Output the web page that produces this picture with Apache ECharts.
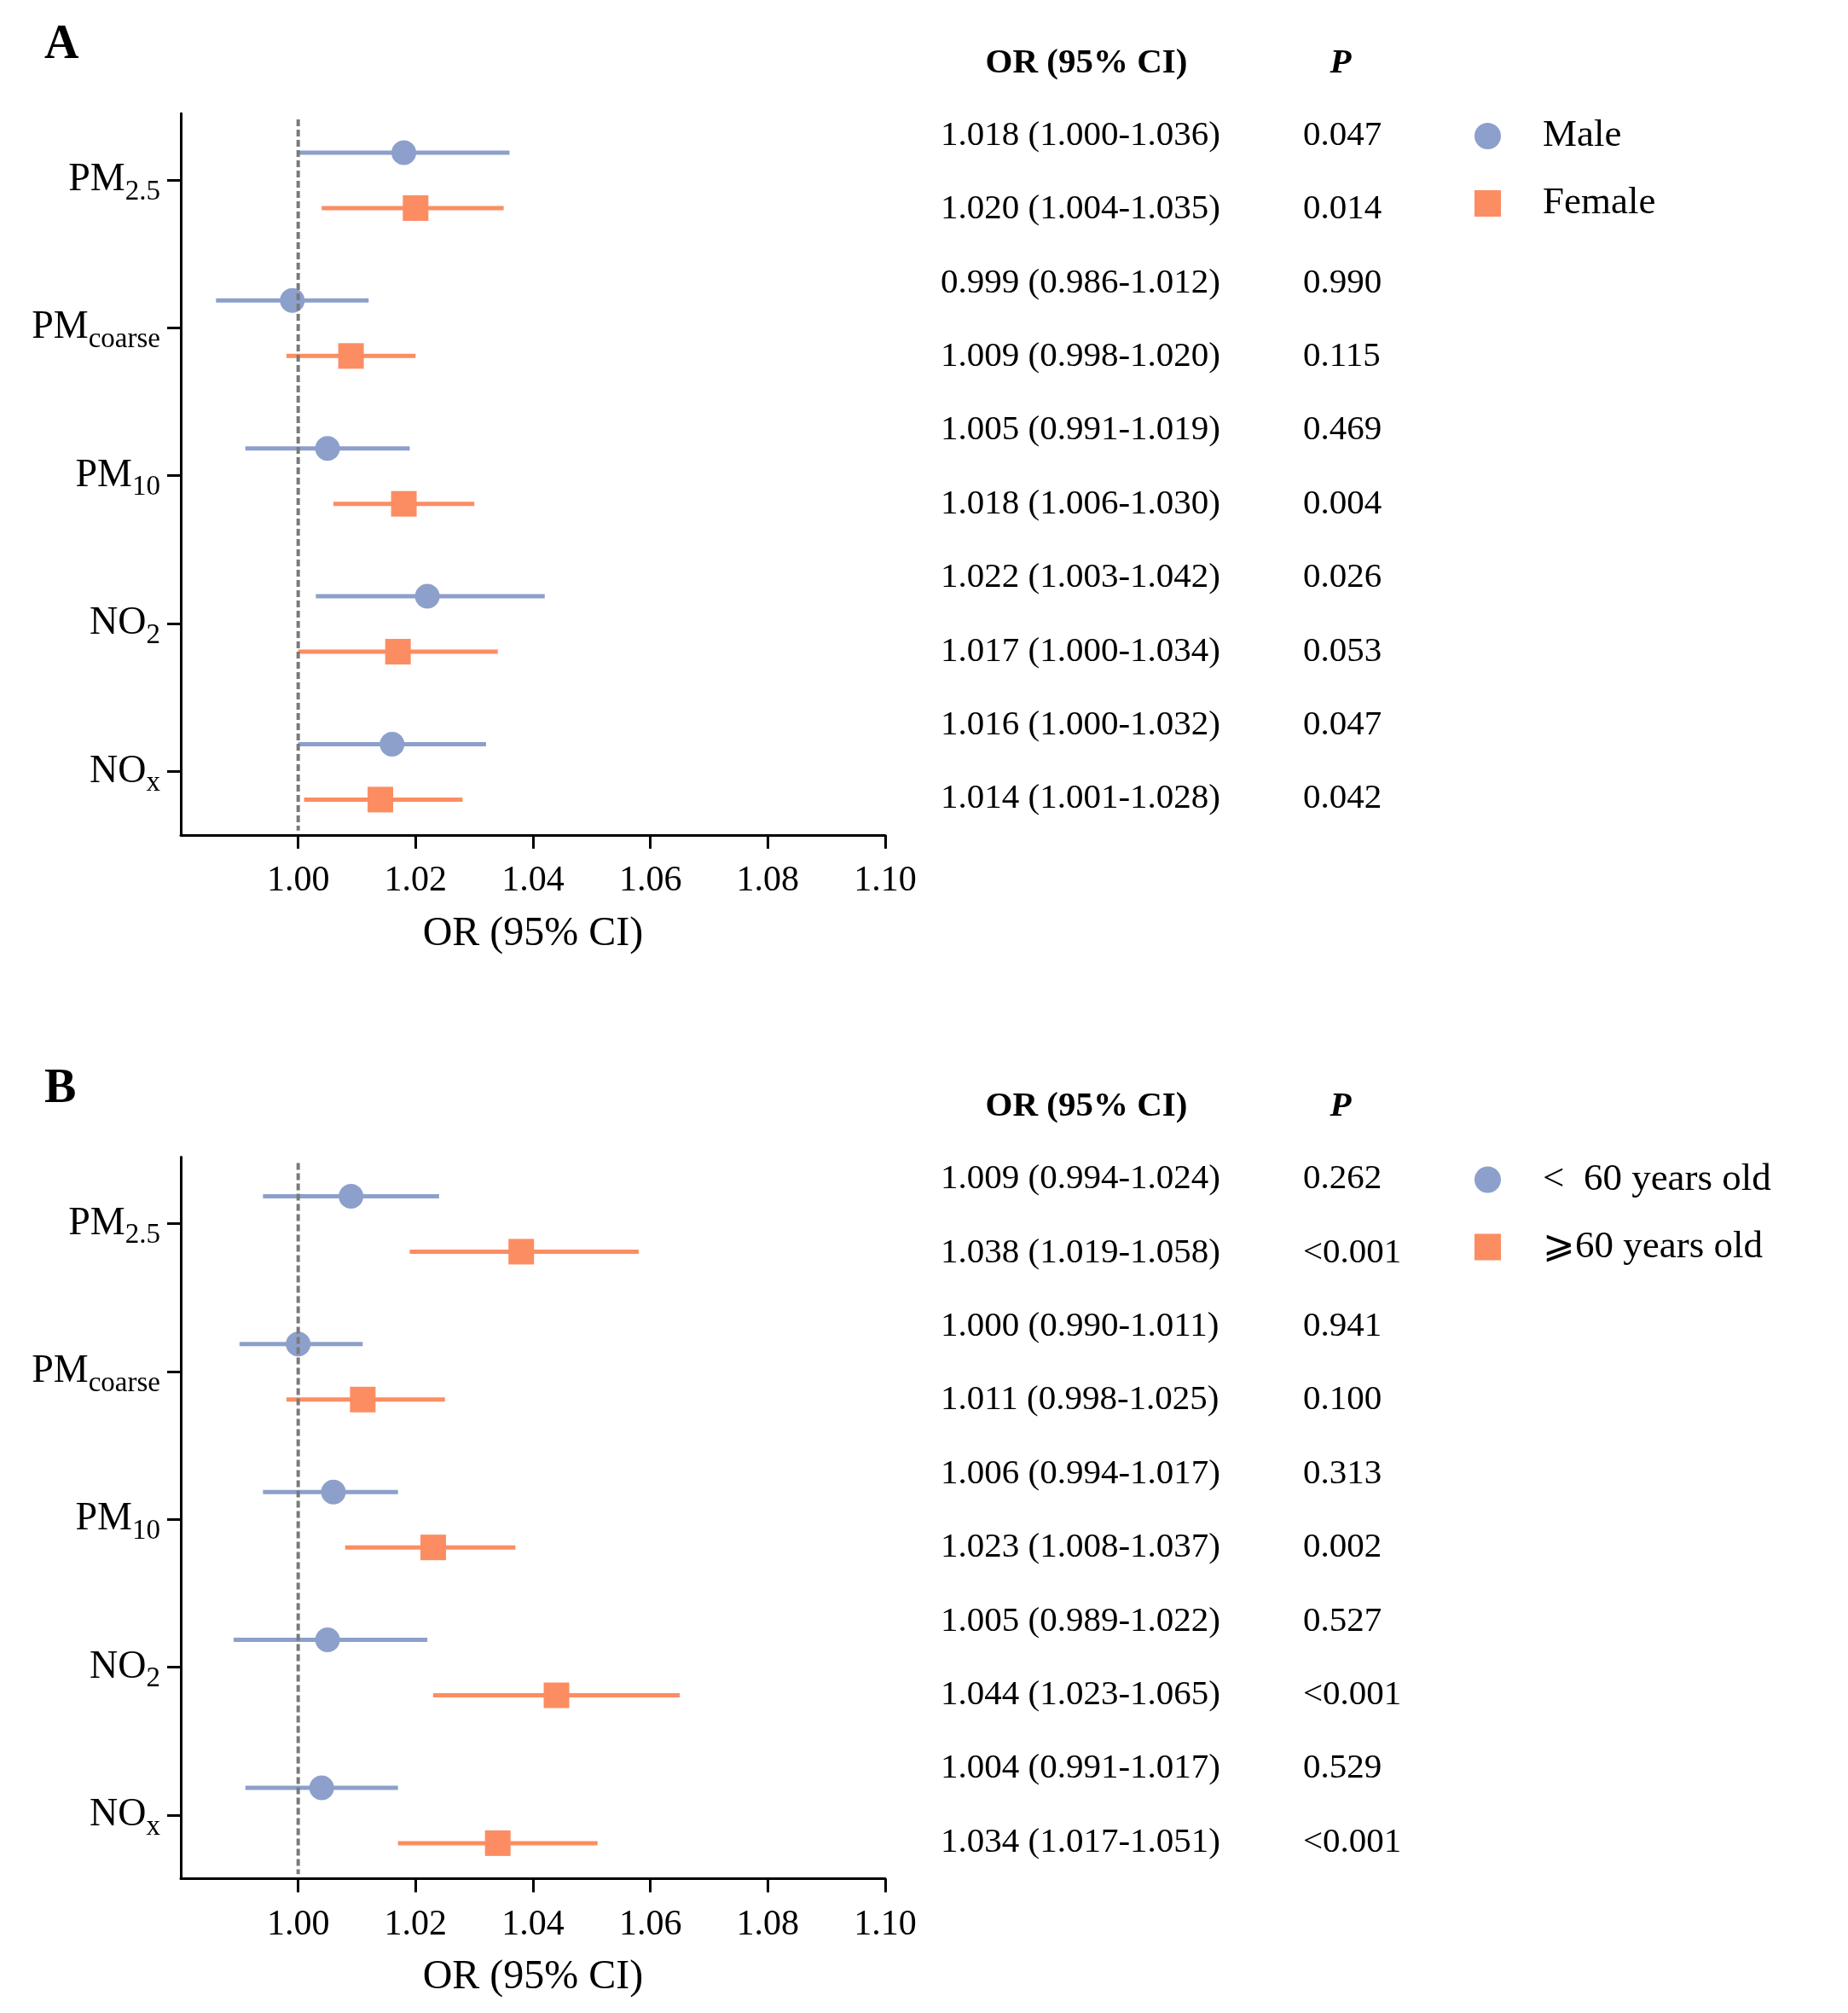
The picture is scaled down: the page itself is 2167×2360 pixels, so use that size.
<!DOCTYPE html>
<html>
<head>
<meta charset="utf-8">
<script src="https://cdn.jsdelivr.net/npm/echarts@6/dist/echarts.min.js"></script>
<style>
  html, body { margin: 0; padding: 0; background: #fff; }
  #chart { width: 2167px; height: 2360px; }
</style>
</head>
<body>
<div id="chart"></div>
<script>
// 污染物（y轴）
const pollutantLabels = [['PM', '2.5'], ['PM', 'coarse'], ['PM', '10'], ['NO', '2'], ['NO', 'x']];
const xTicks = [1.00, 1.02, 1.04, 1.06, 1.08, 1.10];
const yTicks = [0, 1, 2, 3, 4];

// A: 性别
const maleOR = [1.018, 0.999, 1.005, 1.022, 1.016];
const maleLow = [1.000, 0.986, 0.991, 1.003, 1.000];
const maleHigh = [1.036, 1.012, 1.019, 1.042, 1.032];
const maleP = ['0.047', '0.990', '0.469', '0.026', '0.047'];
const femaleOR = [1.020, 1.009, 1.018, 1.017, 1.014];
const femaleLow = [1.004, 0.998, 1.006, 1.000, 1.001];
const femaleHigh = [1.035, 1.020, 1.030, 1.034, 1.028];
const femaleP = ['0.014', '0.115', '0.004', '0.053', '0.042'];

// B: 年龄
const youngOR = [1.009, 1.000, 1.006, 1.005, 1.004];
const youngLow = [0.994, 0.990, 0.994, 0.989, 0.991];
const youngHigh = [1.024, 1.011, 1.017, 1.022, 1.017];
const youngP = ['0.262', '0.941', '0.313', '0.527', '0.529'];
const oldOR = [1.038, 1.011, 1.023, 1.044, 1.034];
const oldLow = [1.019, 0.998, 1.008, 1.023, 1.017];
const oldHigh = [1.058, 1.025, 1.037, 1.065, 1.051];
const oldP = ['<0.001', '0.100', '0.002', '<0.001', '<0.001'];

const BLUE = '#8DA0CB';
const ORANGE = '#FC8D62';
const FONT = '"Liberation Serif", "Times New Roman", serif';
const OFF_UP = -0.185;
const OFF_DOWN = 0.19;
const PANEL_DY = 1223.5;

const panels = [
  {
    letter: 'A',
    groups: [
      { name: 'Male', or: maleOR, low: maleLow, high: maleHigh, p: maleP, color: BLUE, symbol: 'circle', off: OFF_UP },
      { name: 'Female', or: femaleOR, low: femaleLow, high: femaleHigh, p: femaleP, color: ORANGE, symbol: 'rect', off: OFF_DOWN },
    ],
  },
  {
    letter: 'B',
    groups: [
      { name: '<  60 years old', or: youngOR, low: youngLow, high: youngHigh, p: youngP, color: BLUE, symbol: 'circle', off: OFF_UP },
      { name: '\u2A7E60 years old', or: oldOR, low: oldLow, high: oldHigh, p: oldP, color: ORANGE, symbol: 'rect', off: OFF_DOWN },
    ],
  },
];

const chart = echarts.init(document.getElementById('chart'), null, { renderer: 'canvas' });

const grids = [];
const xAxes = [];
const yAxes = [];
const series = [];
const legends = [];
const graphics = [];

panels.forEach((panel, pi) => {
  const dy = pi * PANEL_DY;
  grids.push({ left: 212, width: 826, top: 133 + dy, height: 846 });

  xAxes.push({
    type: 'value',
    gridIndex: pi,
    min: 0.98,
    max: 1.10,
    name: 'OR (95% CI)',
    nameLocation: 'middle',
    nameGap: 92,
    nameTextStyle: { fontFamily: FONT, fontSize: 48, color: '#000' },
    axisLine: { show: true, onZero: false, lineStyle: { color: '#000', width: 3 } },
    axisTick: { show: true, length: 16, customValues: xTicks, lineStyle: { color: '#000', width: 3 } },
    axisLabel: {
      customValues: xTicks,
      margin: 33,
      fontFamily: FONT,
      fontSize: 42,
      color: '#000',
      formatter: (v) => v.toFixed(2),
    },
    splitLine: { show: false },
  });

  yAxes.push({
    type: 'value',
    gridIndex: pi,
    min: -0.45,
    max: 4.43,
    inverse: true,
    axisLine: { show: true, onZero: false, lineStyle: { color: '#000', width: 3 } },
    axisTick: { show: true, length: 16, customValues: yTicks, lineStyle: { color: '#000', width: 3 } },
    axisLabel: {
      customValues: yTicks,
      margin: 24,
      align: 'right',
      formatter: (v) => {
        const lab = pollutantLabels[Math.round(v)];
        return lab ? '{m|' + lab[0] + '}{s|' + lab[1] + '}' : '';
      },
      rich: {
        m: { fontFamily: FONT, fontSize: 46, color: '#000' },
        s: { fontFamily: FONT, fontSize: 33, color: '#000', padding: [28, 0, 0, 0] },
      },
    },
    splitLine: { show: false },
  });

  // 误差线 + 点
  panel.groups.forEach((g) => {
    const barData = g.or.map((_, i) => [g.low[i], g.high[i], i + g.off]);
    series.push({
      type: 'custom',
      xAxisIndex: pi,
      yAxisIndex: pi,
      silent: true,
      z: 2,
      data: barData,
      encode: { x: [0, 1], y: 2 },
      renderItem: (params, api) => {
        const p1 = api.coord([api.value(0), api.value(2)]);
        const p2 = api.coord([api.value(1), api.value(2)]);
        return {
          type: 'line',
          shape: { x1: p1[0], y1: p1[1], x2: p2[0], y2: p2[1] },
          style: { stroke: g.color, lineWidth: 5 },
        };
      },
    });
    series.push({
      name: g.name,
      type: 'scatter',
      xAxisIndex: pi,
      yAxisIndex: pi,
      symbol: g.symbol,
      symbolSize: g.symbol === 'circle' ? 29 : 30,
      itemStyle: { color: g.color, opacity: 1 },
      z: 3,
      data: g.or.map((v, i) => [v, i + g.off]),
    });
  });

  // 参考线 OR = 1
  series.push({
    type: 'line',
    xAxisIndex: pi,
    yAxisIndex: pi,
    silent: true,
    symbol: 'none',
    z: 4,
    lineStyle: { color: '#7a7a7a', width: 4, type: [8, 4] },
    data: [[1, -0.41], [1, 4.4]],
  });

  legends.push({
    data: panel.groups.map((g) => g.name),
    orient: 'vertical',
    left: 1724,
    top: 132 + dy,
    itemWidth: 31,
    itemHeight: 31,
    itemGap: 34,
    selectedMode: false,
    textStyle: { fontFamily: FONT, fontSize: 45, lineHeight: 45, color: '#000', padding: [0, 0, 0, 44] },
  });

  // 面板字母与表格
  graphics.push({
    type: 'text', x: 52, y: 54 + dy,
    style: { text: panel.letter, font: 'bold 56px ' + FONT, fill: '#000', verticalAlign: 'middle' },
  });
  graphics.push({
    type: 'text', x: 1274, y: 74 + dy,
    style: { text: 'OR (95% CI)', font: 'bold 41px ' + FONT, fill: '#000', align: 'center', verticalAlign: 'middle' },
  });
  graphics.push({
    type: 'text', x: 1572, y: 74 + dy,
    style: { text: 'P', font: 'italic bold 41px ' + FONT, fill: '#000', align: 'center', verticalAlign: 'middle' },
  });
  let row = 0;
  panel.groups[0].or.forEach((_, i) => {
    panel.groups.forEach((g) => {
      const y = 159 + row * 86.4 + dy;
      const txt = g.or[i].toFixed(3) + ' (' + g.low[i].toFixed(3) + '-' + g.high[i].toFixed(3) + ')';
      graphics.push({
        type: 'text', x: 1103, y: y,
        style: { text: txt, font: '41px ' + FONT, fill: '#000', align: 'left', verticalAlign: 'middle' },
      });
      graphics.push({
        type: 'text', x: 1528, y: y,
        style: { text: g.p[i], font: '41px ' + FONT, fill: '#000', align: 'left', verticalAlign: 'middle' },
      });
      row++;
    });
  });
});

chart.setOption({
  backgroundColor: '#fff',
  animation: false,
  grid: grids,
  xAxis: xAxes,
  yAxis: yAxes,
  legend: legends,
  series: series,
  graphic: graphics,
});
</script>
</body>
</html>
